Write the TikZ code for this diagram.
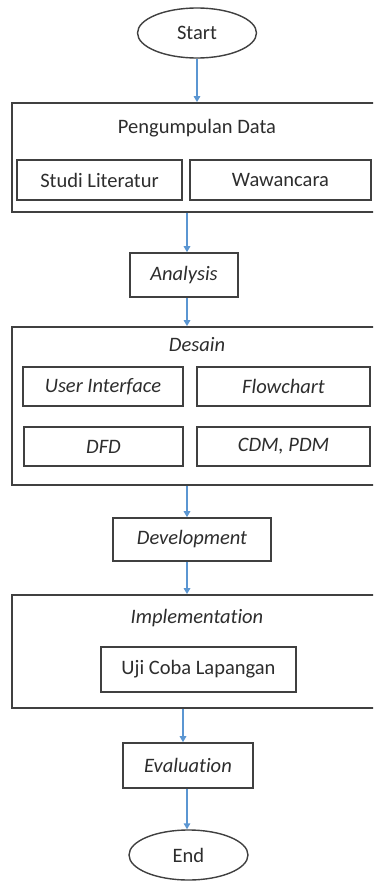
\documentclass[tikz,border=0pt]{standalone}
\usepackage{fontspec}
\setmainfont[Ligatures={NoCommon}]{Carlito}
\usetikzlibrary{arrows.meta,shapes.geometric}
\definecolor{boxline}{RGB}{64,64,64}
\definecolor{txt}{RGB}{45,45,45}
\definecolor{arrblue}{RGB}{91,150,210}
\begin{document}
\begin{tikzpicture}[x=1pt,y=-1pt,
  every node/.style={font=\fontsize{20.5}{24}\selectfont, text=txt},
  oval/.style={ellipse, draw=boxline, line width=1.4pt, inner sep=0pt},
  stepbox/.style={rectangle, draw=boxline, line width=1.6pt, inner sep=0pt},
  bigbox/.style={rectangle, draw=boxline, line width=1.8pt, inner sep=0pt, minimum width=368pt},
  plain/.style={inner sep=0pt},
  arr/.style={draw=arrblue, line width=1.6pt, -{Triangle[length=6pt,width=6.5pt]}}
]
\useasboundingbox (0,0) rectangle (373,881);
\fill[white] (0,0) rectangle (373,881);
\clip (0,0) rectangle (373,881);

% Start
\node[oval, minimum width=119pt, minimum height=50pt] (start) at (197,33) {Start};

% Pengumpulan Data
\node[bigbox, minimum height=109pt] (pd) at (196,157.5) {};
\node[plain] (pdt) at (197,128) {Pengumpulan Data};
\node[stepbox, minimum width=165pt, minimum height=40pt] (studi) at (99.5,180) {Studi Literatur};
\node[stepbox, minimum width=181pt, minimum height=40pt] (waw) at (280.5,180) {Wawancara};

% Analysis
\node[stepbox, minimum width=108pt, minimum height=44pt] (ana) at (184,275) {\itshape Analysis};

% Desain
\node[bigbox, minimum height=158pt] (des) at (196,406) {};
\node[plain] (dest) at (197,345) {\itshape Desain};
\node[stepbox, minimum width=160pt, minimum height=39pt] (ui) at (103,386.5) {\itshape User Interface};
\node[stepbox, minimum width=173pt, minimum height=39pt] (flow) at (283.5,386.5) {\itshape Flowchart};
\node[stepbox, minimum width=159pt, minimum height=39pt] (dfd) at (103.5,446.5) {\itshape DFD};
\node[stepbox, minimum width=173pt, minimum height=39pt] (cdm) at (283.5,446.5) {\itshape CDM, PDM};

% Development
\node[stepbox, minimum width=158pt, minimum height=43pt] (dev) at (192,539.5) {\itshape Development};

% Implementation
\node[bigbox, minimum height=113pt] (imp) at (196,651.5) {};
\node[plain] (impt) at (197,618) {\itshape Implementation};
\node[stepbox, minimum width=195pt, minimum height=45pt] (uji) at (198.5,669.5) {Uji Coba Lapangan};

% Evaluation
\node[stepbox, minimum width=130pt, minimum height=45pt] (eva) at (188,765.5) {\itshape Evaluation};

% End
\node[oval, minimum width=119pt, minimum height=50pt] (end) at (188.5,855) {End};

% Arrows
\draw[arr] (start.south) -- (start.south |- pd.north);
\draw[arr] ([xshift=-9pt]pd.south) -- ([xshift=-9pt]pd.south |- ana.north);
\draw[arr] ([xshift=3pt]ana.south) -- ([xshift=3pt]ana.south |- des.north);
\draw[arr] ([xshift=-9pt]des.south) -- ([xshift=-9pt]des.south |- dev.north);
\draw[arr] ([xshift=-5pt]dev.south) -- ([xshift=-5pt]dev.south |- imp.north);
\draw[arr] ([xshift=-13pt]imp.south) -- ([xshift=-13pt]imp.south |- eva.north);
\draw[arr] ([xshift=-1pt]eva.south) -- ([xshift=-1pt]eva.south |- end.north);
\end{tikzpicture}
\end{document}
